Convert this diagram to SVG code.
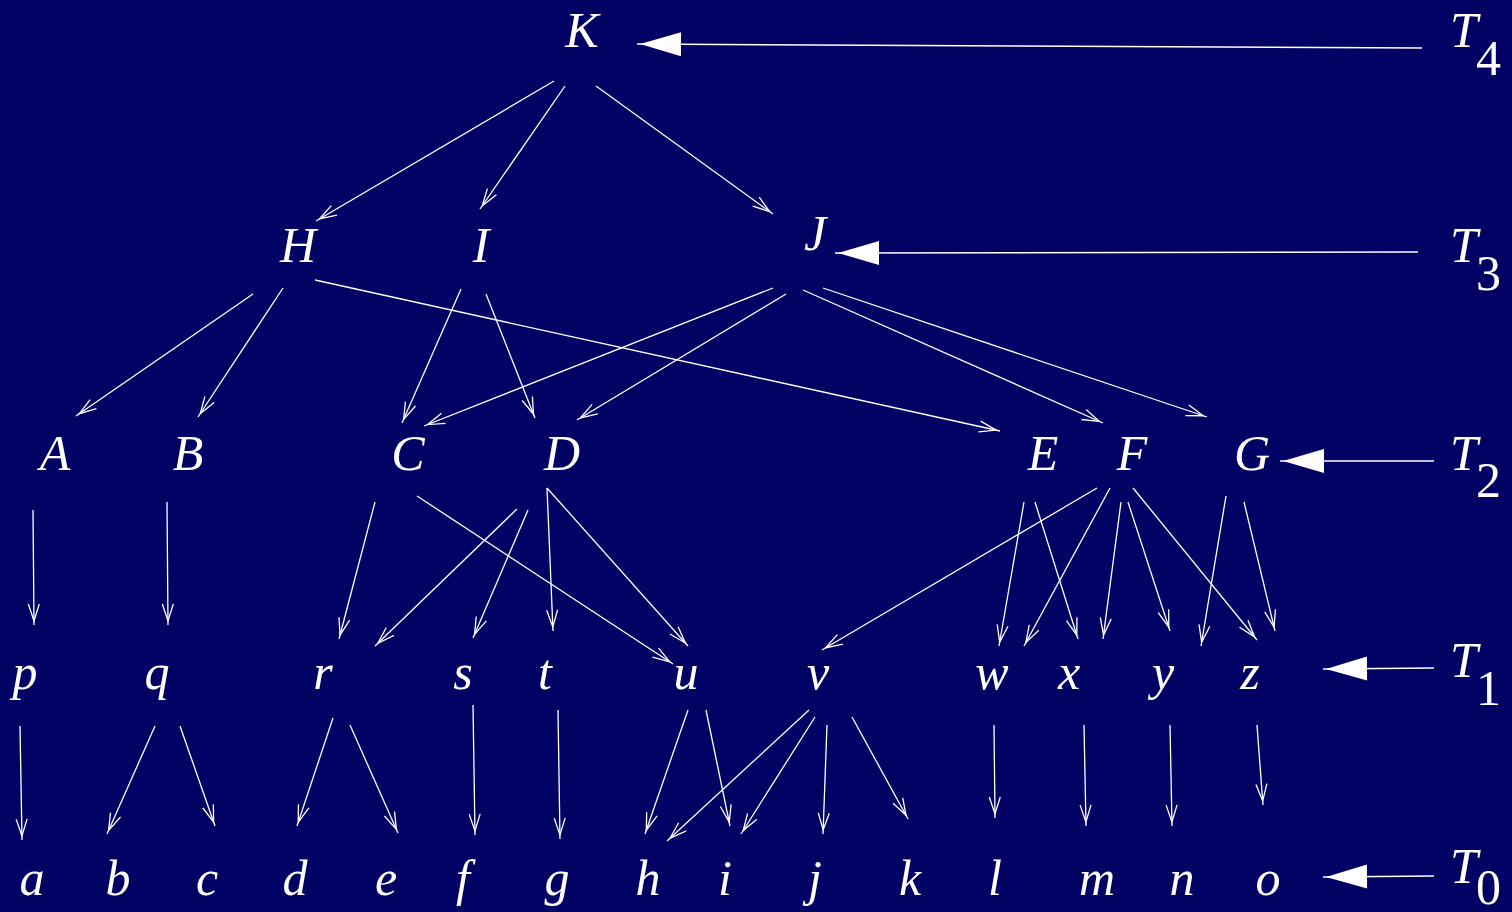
<svg xmlns="http://www.w3.org/2000/svg" width="1512" height="912" viewBox="0 0 1512 912">
<style>
.bg{fill:#020264}
.n{font-family:"Liberation Serif","DejaVu Serif",serif;font-style:italic;font-size:50px;fill:#ffffff;text-anchor:middle}
.lbl{font-family:"Liberation Serif","DejaVu Serif",serif;font-size:50px;fill:#ffffff}
.sub{font-style:normal}
.e{stroke:#ffffff;stroke-width:1.3;fill:none;marker-end:url(#v)}
.t{stroke:#ffffff;stroke-width:1.5;fill:none;marker-end:url(#tri)}
</style>
<defs>
<marker id="v" markerUnits="userSpaceOnUse" orient="auto" markerWidth="24" markerHeight="14" refX="21" refY="7" overflow="visible">
<path d="M0,1.5 L17,7 L0,12.5" fill="none" stroke="#ffffff" stroke-width="1.3"/>
</marker>
<marker id="tri" markerUnits="userSpaceOnUse" orient="auto" markerWidth="46" markerHeight="24" refX="44" refY="12" overflow="visible">
<path d="M0,0 L41,12 L0,24 Z" fill="#ffffff"/>
</marker>
</defs>
<rect class="bg" x="0" y="0" width="1512" height="912"/>
<g id="connectors">
<line class="t" x1="1422" y1="48" x2="637" y2="44"/>
<line class="t" x1="1418" y1="252" x2="835" y2="253"/>
<line class="t" x1="1434" y1="461" x2="1280" y2="461"/>
<line class="t" x1="1434" y1="668" x2="1323" y2="669"/>
<line class="t" x1="1434" y1="876" x2="1323" y2="877"/>
<line class="e" x1="554" y1="81" x2="316" y2="221"/>
<line class="e" x1="565" y1="86" x2="480" y2="209"/>
<line class="e" x1="596" y1="86" x2="773" y2="214"/>
<line class="e" x1="253" y1="294" x2="76" y2="416"/>
<line class="e" x1="283" y1="288" x2="198" y2="417"/>
<line class="e" x1="315" y1="280" x2="1000" y2="431"/>
<line class="e" x1="461" y1="289" x2="402" y2="423"/>
<line class="e" x1="486" y1="294" x2="535" y2="418"/>
<line class="e" x1="773" y1="288" x2="424" y2="426"/>
<line class="e" x1="786" y1="294" x2="577" y2="420"/>
<line class="e" x1="803" y1="290" x2="1103" y2="423"/>
<line class="e" x1="823" y1="288" x2="1207" y2="417"/>
<line class="e" x1="33" y1="510" x2="34" y2="625"/>
<line class="e" x1="167" y1="502" x2="168" y2="625"/>
<line class="e" x1="375" y1="502" x2="339" y2="639"/>
<line class="e" x1="417" y1="496" x2="673" y2="664"/>
<line class="e" x1="517" y1="509" x2="375" y2="646"/>
<line class="e" x1="528" y1="510" x2="473" y2="638"/>
<line class="e" x1="547" y1="488" x2="553" y2="631"/>
<line class="e" x1="547" y1="488" x2="688" y2="646"/>
<line class="e" x1="1097" y1="488" x2="822" y2="650"/>
<line class="e" x1="1024" y1="502" x2="999" y2="646"/>
<line class="e" x1="1035" y1="502" x2="1078" y2="639"/>
<line class="e" x1="1110" y1="488" x2="1024" y2="646"/>
<line class="e" x1="1121" y1="502" x2="1103" y2="639"/>
<line class="e" x1="1128" y1="502" x2="1170" y2="631"/>
<line class="e" x1="1133" y1="488" x2="1257" y2="640"/>
<line class="e" x1="1226" y1="496" x2="1201" y2="646"/>
<line class="e" x1="1244" y1="502" x2="1275" y2="631"/>
<line class="e" x1="20" y1="726" x2="22" y2="840"/>
<line class="e" x1="155" y1="726" x2="107" y2="834"/>
<line class="e" x1="180" y1="726" x2="215" y2="826"/>
<line class="e" x1="333" y1="718" x2="297" y2="826"/>
<line class="e" x1="350" y1="725" x2="398" y2="833"/>
<line class="e" x1="473" y1="705" x2="475" y2="835"/>
<line class="e" x1="558" y1="710" x2="560" y2="839"/>
<line class="e" x1="688" y1="710" x2="645" y2="834"/>
<line class="e" x1="706" y1="710" x2="730" y2="826"/>
<line class="e" x1="809" y1="710" x2="667" y2="841"/>
<line class="e" x1="815" y1="717" x2="741" y2="834"/>
<line class="e" x1="827" y1="725" x2="823" y2="834"/>
<line class="e" x1="852" y1="717" x2="908" y2="819"/>
<line class="e" x1="994" y1="725" x2="995" y2="818"/>
<line class="e" x1="1084" y1="725" x2="1086" y2="826"/>
<line class="e" x1="1170" y1="725" x2="1172" y2="826"/>
<line class="e" x1="1257" y1="725" x2="1263" y2="805"/>
</g>
<g id="node-K"><text class="n" x="582" y="47">K</text></g>
<g id="node-H"><text class="n" x="298" y="262">H</text></g>
<g id="node-I"><text class="n" x="481" y="262">I</text></g>
<g id="node-J"><text class="n" x="815" y="250">J</text></g>
<g id="node-A"><text class="n" x="55" y="470">A</text></g>
<g id="node-B"><text class="n" x="188" y="470">B</text></g>
<g id="node-C"><text class="n" x="408" y="470">C</text></g>
<g id="node-D"><text class="n" x="562" y="470">D</text></g>
<g id="node-E"><text class="n" x="1043" y="470">E</text></g>
<g id="node-F"><text class="n" x="1132" y="470">F</text></g>
<g id="node-G"><text class="n" x="1252" y="470">G</text></g>
<g id="node-p"><text class="n" x="25" y="689">p</text></g>
<g id="node-q"><text class="n" x="157" y="689">q</text></g>
<g id="node-r"><text class="n" x="323" y="689">r</text></g>
<g id="node-s"><text class="n" x="463" y="689">s</text></g>
<g id="node-t"><text class="n" x="545" y="689">t</text></g>
<g id="node-u"><text class="n" x="686" y="689">u</text></g>
<g id="node-v"><text class="n" x="818" y="689">v</text></g>
<g id="node-w"><text class="n" x="992" y="689">w</text></g>
<g id="node-x"><text class="n" x="1069" y="689">x</text></g>
<g id="node-y"><text class="n" x="1163" y="689">y</text></g>
<g id="node-z"><text class="n" x="1250" y="689">z</text></g>
<g id="node-a"><text class="n" x="32" y="895">a</text></g>
<g id="node-b"><text class="n" x="118" y="895">b</text></g>
<g id="node-c"><text class="n" x="207" y="895">c</text></g>
<g id="node-d"><text class="n" x="295" y="895">d</text></g>
<g id="node-e"><text class="n" x="386" y="895">e</text></g>
<g id="node-f"><text class="n" x="463" y="895">f</text></g>
<g id="node-g"><text class="n" x="557" y="895">g</text></g>
<g id="node-h"><text class="n" x="648" y="895">h</text></g>
<g id="node-i"><text class="n" x="725" y="895">i</text></g>
<g id="node-j"><text class="n" x="815" y="895">j</text></g>
<g id="node-k"><text class="n" x="910" y="895">k</text></g>
<g id="node-l"><text class="n" x="995" y="895">l</text></g>
<g id="node-m"><text class="n" x="1097" y="895">m</text></g>
<g id="node-n"><text class="n" x="1182" y="895">n</text></g>
<g id="node-o"><text class="n" x="1268" y="895">o</text></g>
<g id="label-T4"><text class="lbl" x="1450" y="47" font-style="italic">T</text><text class="lbl sub" x="1476" y="75">4</text></g>
<g id="label-T3"><text class="lbl" x="1450" y="262" font-style="italic">T</text><text class="lbl sub" x="1476" y="290">3</text></g>
<g id="label-T2"><text class="lbl" x="1450" y="470" font-style="italic">T</text><text class="lbl sub" x="1476" y="497">2</text></g>
<g id="label-T1"><text class="lbl" x="1450" y="677" font-style="italic">T</text><text class="lbl sub" x="1476" y="705">1</text></g>
<g id="label-T0"><text class="lbl" x="1450" y="883" font-style="italic">T</text><text class="lbl sub" x="1476" y="904">0</text></g>
</svg>
